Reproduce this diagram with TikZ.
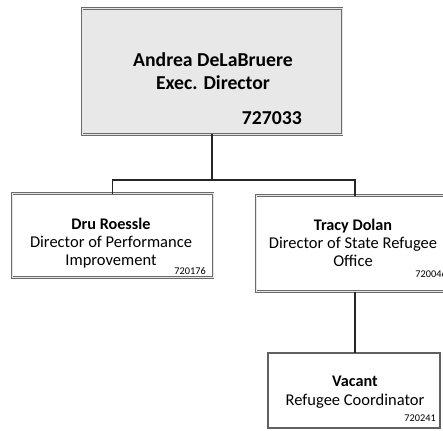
\documentclass[tikz,border=0pt]{standalone}
\usepackage{fontspec}
\setmainfont{Carlito}
\begin{document}
\begin{tikzpicture}[x=1pt,y=-1pt,
  orgbox/.style={draw=black!58, line width=2.8pt, inner sep=0pt, outer sep=0pt,
                 postaction={draw=black!10, line width=0.8pt}},
  thinbox/.style={draw=black!62, line width=1.4pt, inner sep=0pt, outer sep=0pt},
  orgconn/.style={draw=black!85, line width=1.3pt},
  ptxt/.style={anchor=base, inner sep=0pt, text=black},
  pbig/.style={ptxt, font=\fontsize{19.7}{22}\selectfont\bfseries},
  pname/.style={ptxt, font=\fontsize{16.2}{18}\selectfont\bfseries},
  prole/.style={ptxt, font=\fontsize{16.5}{18}\selectfont},
  pnum/.style={anchor=base east, inner sep=0pt, font=\fontsize{10.3}{12}\selectfont}
]
\useasboundingbox (0,0) rectangle (443,430);

% boxes
\node[orgbox, fill=gray!18, minimum width=260, minimum height=126] (exec) at (212,71.5) {};
\node[orgbox, fill=white, minimum width=201, minimum height=84] (dru) at (112.5,235.5) {};
\node[orgbox, fill=white, minimum width=198, minimum height=96] (tracy) at (355,243.5) {};
\node[thinbox, fill=white, minimum width=172, minimum height=75] (vacant) at (354,390.5) {};

% texts
\node[pbig] (execname) at (213,67) {Andrea DeLaBruere};
\node[pbig] (exectitle) at (213,90) {Exec. Director};
\node[pbig, anchor=base east] (execnum) at (302,125) {727033};

\node[pname] (druname) at (111,229) {Dru Roessle};
\node[prole] (drutitle1) at (111,247) {Director of Performance};
\node[prole] (drutitle2) at (111,265) {Improvement};
\node[pnum] (drunum) at (206,274) {720176};

\node[pname] (tracyname) at (353,230) {Tracy Dolan};
\node[prole] (tracytitle1) at (353,248) {Director of State Refugee};
\node[prole] (tracytitle2) at (353,266) {Office};
\node[pnum] (tracynum) at (447,277) {720046};

\node[pname] (vacname) at (355,386) {Vacant};
\node[prole] (vactitle) at (355,405) {Refugee Coordinator};
\node[pnum] (vacnum) at (436,421) {720241};

% connectors
\coordinate (j) at (212,180);
\coordinate (jl) at (112.5,180);
\coordinate (jr) at (355,180);
\draw[orgconn] (exec.south) -- (j);
\draw[orgconn] (dru.north) -- (jl) -- (jr) -- (tracy.north);
\draw[orgconn] (tracy.south) -- (tracy.south |- vacant.north);
\end{tikzpicture}
\end{document}
